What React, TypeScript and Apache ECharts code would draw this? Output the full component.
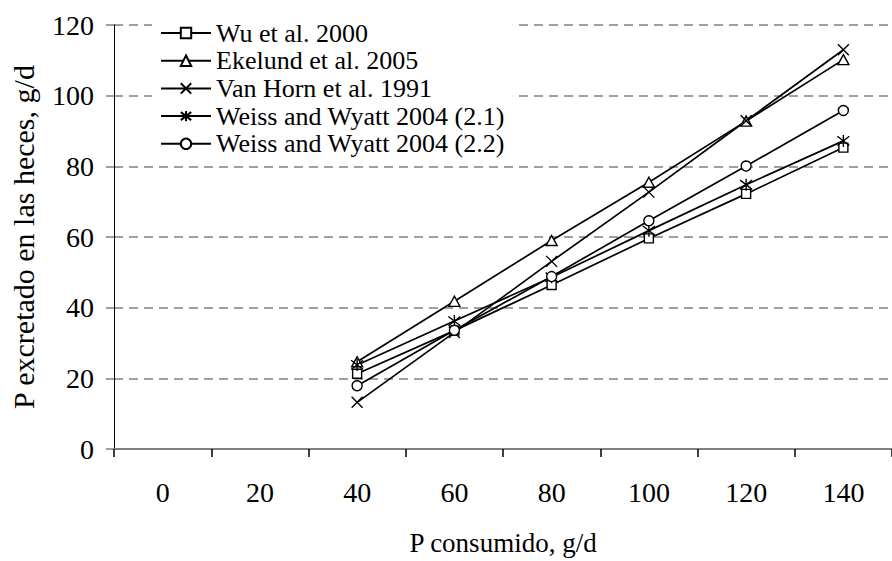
import React, { useEffect, useRef } from "react";
import * as echarts from "echarts";

const categories = ["0", "20", "40", "60", "80", "100", "120", "140"];
const seriesNames = [
  "Wu et al. 2000",
  "Ekelund et al. 2005",
  "Van Horn et al. 1991",
  "Weiss and Wyatt 2004 (2.1)",
  "Weiss and Wyatt 2004 (2.2)",
];
const wu = [null, null, 21.3, 33.5, 46.4, 59.6, 72.2, 85.3];
const ekelund = [null, null, 24.7, 41.8, 59.0, 75.5, 92.8, 110.2];
const vanHorn = [null, null, 13.2, 33.0, 53.1, 72.7, 92.9, 113.0];
const weiss21 = [null, null, 23.8, 36.2, 48.6, 61.8, 74.8, 87.2];
const weiss22 = [null, null, 17.9, 33.6, 48.8, 64.6, 80.1, 95.8];
const yTicks = { min: 0, max: 120, interval: 20 };

const FONT = "'Liberation Serif', 'Times New Roman', 'DejaVu Serif', serif";
const X_SYMBOL = "path://M0,0L10,10M10,0L0,10";
const STAR_SYMBOL = "path://M0,0L10,10M10,0L0,10M5,-1.5L5,11.5";

export default function App() {
  const ref = useRef<HTMLDivElement>(null);
  useEffect(() => {
    if (!ref.current) return;
    const chart = echarts.init(ref.current, null, { renderer: "svg" });
    const mk = (name: string, data: (number | null)[], symbol: string, size: any) => ({
      name,
      type: "line",
      data,
      symbol,
      symbolSize: size,
      showSymbol: true,
      lineStyle: { color: "#000", width: 1.7 },
      itemStyle: { color: "#fff", borderColor: "#000", borderWidth: 1.4 },
      emphasis: { disabled: true },
      z: 3,
    });
    chart.setOption({
      animation: false,
      textStyle: { fontFamily: FONT },
      grid: { left: 113.5, top: 25, right: -8, bottom: 109, containLabel: false },
      legend: {
        orient: "vertical",
        left: 152,
        top: 16,
        padding: [4, 8, 4, 8],
        backgroundColor: "#fff",
        itemWidth: 50,
        itemHeight: 13,
        itemGap: 1.7,
        textStyle: { fontSize: 26, fontFamily: FONT, color: "#000", lineHeight: 26 },
        data: seriesNames,
        z: 10,
      },
      xAxis: {
        type: "category",
        data: categories,
        boundaryGap: true,
        name: "P consumido, g/d",
        nameLocation: "middle",
        nameGap: 80,
        nameTextStyle: { fontSize: 27, fontFamily: FONT, color: "#000" },
        axisLine: { lineStyle: { color: "#808080", width: 2 } },
        axisTick: { show: true, length: 8, lineStyle: { color: "#000", width: 1.5 } },
        axisLabel: { fontSize: 28, fontFamily: FONT, color: "#000", margin: 29 },
        splitLine: { show: false },
      },
      yAxis: {
        type: "value",
        min: yTicks.min,
        max: yTicks.max,
        interval: yTicks.interval,
        name: "P excretado en las heces, g/d",
        nameLocation: "middle",
        nameGap: 76,
        nameTextStyle: { fontSize: 30, fontFamily: FONT, color: "#000" },
        axisLine: { show: true, lineStyle: { color: "#000", width: 1 } },
        axisTick: { show: true, length: 8, lineStyle: { color: "#808080", width: 1.5 } },
        axisLabel: { fontSize: 28, fontFamily: FONT, color: "#000", margin: 20 },
        splitLine: { show: true, lineStyle: { color: "#808080", width: 1.6, type: [9, 6] } },
      },
      series: [
        mk(seriesNames[0], wu, "rect", 9),
        mk(seriesNames[1], ekelund, "triangle", [11, 10]),
        mk(seriesNames[2], vanHorn, X_SYMBOL, 11),
        mk(seriesNames[3], weiss21, STAR_SYMBOL, 12),
        mk(seriesNames[4], weiss22, "circle", 10),
      ],
    });
    return () => chart.dispose();
  }, []);
  return (
    <div
      ref={ref}
      style={{ position: "absolute", left: 0, top: 0, width: 892, height: 561, background: "#fff" }}
    />
  );
}
